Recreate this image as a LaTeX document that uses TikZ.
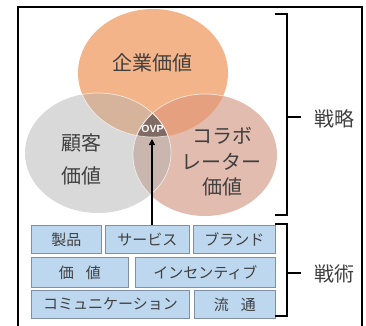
\documentclass[tikz,border=0pt]{standalone}
\usepackage{fontspec}
\newfontfamily\jp{Noto Sans CJK JP}
\newfontfamily\ovpfont{Liberation Sans}
\usetikzlibrary{arrows.meta}
\definecolor{cTop}{HTML}{F4B48A}
\definecolor{cLeft}{HTML}{D9D9D9}
\definecolor{cRight}{HTML}{E3BCB0}
\definecolor{cTL}{HTML}{D6B39B}
\definecolor{cTR}{HTML}{E5A080}
\definecolor{cLR}{HTML}{C9B6AF}
\definecolor{cAll}{HTML}{7F6B63}
\definecolor{boxfill}{HTML}{BDD7EE}
\definecolor{boxline}{HTML}{7F8FA6}
\definecolor{txt}{HTML}{404040}
\tikzset{
  lbl/.style={font=\jp\fontsize{20}{22}\selectfont, text=txt, inner sep=0pt},
  side/.style={font=\jp\fontsize{20}{22}\selectfont, text=txt, inner sep=0pt},
  tbox/.style={draw=boxline, line width=0.8pt, fill=boxfill, font=\jp\fontsize{15}{17}\selectfont, text=txt, inner sep=0pt, anchor=north west},
  brk/.style={line width=1.2pt, black},
  edge/.style={white, line width=0.7pt, opacity=0.7}
}
\begin{document}
\begin{tikzpicture}[x=1pt,y=-1pt]
\useasboundingbox (0,0) rectangle (366,325);
\begin{scope}
\clip (0,0) rectangle (366,325);
\draw[line width=1.6pt] (18,7) rectangle (362,345);
\end{scope}
% circles
\def\TopE{(153,73) ellipse [x radius=75, y radius=64]}
\def\LeftE{(98,153) ellipse [x radius=73, y radius=60]}
\def\RightE{(205,155) ellipse [x radius=72, y radius=61]}
\fill[cLeft] \LeftE;
\fill[cRight] \RightE;
\fill[cTop] \TopE;
\begin{scope}\clip \TopE; \fill[cTL] \LeftE; \fill[cTR] \RightE; \end{scope}
\begin{scope}\clip \LeftE; \fill[cLR] \RightE; \end{scope}
\begin{scope}\clip \TopE; \clip \LeftE; \fill[cAll] \RightE; \end{scope}
\begin{scope}\clip \TopE; \draw[edge] \LeftE; \draw[edge] \RightE; \end{scope}
\begin{scope}\clip \LeftE; \draw[edge] \RightE; \draw[edge] \TopE; \end{scope}
\begin{scope}\clip \RightE; \draw[edge] \LeftE; \end{scope}
% labels
\node[lbl] (kigyo) at (152,63) {企業価値};
\node[lbl] (kokyaku1) at (81,143) {顧客};
\node[lbl] (kokyaku2) at (81,176) {価値};
\node[lbl] (collab1) at (222,136) {コラボ};
\node[lbl] (collab2) at (221,162) {レーター};
\node[lbl] (collab3) at (222,187) {価値};
\node[font=\ovpfont\bfseries\fontsize{10.5}{11}\selectfont, text=white, inner sep=0pt] (ovp) at (152.5,129) {OVP};
% boxes
\node[tbox, minimum width=70pt, minimum height=28pt] (seihin) at (31,225) {製品};
\node[tbox, minimum width=84pt, minimum height=28pt] (service) at (105,225) {サービス};
\node[tbox, minimum width=82pt, minimum height=28pt] (brand) at (193,225) {ブランド};
\node[tbox, minimum width=97pt, minimum height=30pt] (kachi) at (31,257) {価\hspace{0.8em}値};
\node[tbox, minimum width=140pt, minimum height=30pt] (incentive) at (135,257) {インセンティブ};
\node[tbox, minimum width=158pt, minimum height=28pt] (comm) at (31,290) {コミュニケーション};
\node[tbox, minimum width=81pt, minimum height=28pt] (ryutsu) at (194,290) {流\hspace{0.8em}通};
% arrow
\coordinate (atip) at (152,139);
\draw[line width=1.3pt, -{Triangle[length=6pt,width=6pt]}] (service.north west -| atip) -- (atip);
% brackets
\coordinate (b1t) at (287,14);
\coordinate (b1b) at (287,215);
\coordinate (b1m) at (287,117);
\draw[brk] (275,14) -- (b1t) -- (b1b) -- (275,215);
\draw[brk] (b1m) -- (301,117);
\node[side] (senryaku) at (334,119) {戦略};
\coordinate (b2t) at (287,224);
\coordinate (b2b) at (287,316);
\coordinate (b2m) at (287,273);
\draw[brk] (275,224) -- (b2t) -- (b2b) -- (275,316);
\draw[brk] (b2m) -- (301,273);
\node[side] (senjutsu) at (334,274) {戦術};
\end{tikzpicture}
\end{document}
